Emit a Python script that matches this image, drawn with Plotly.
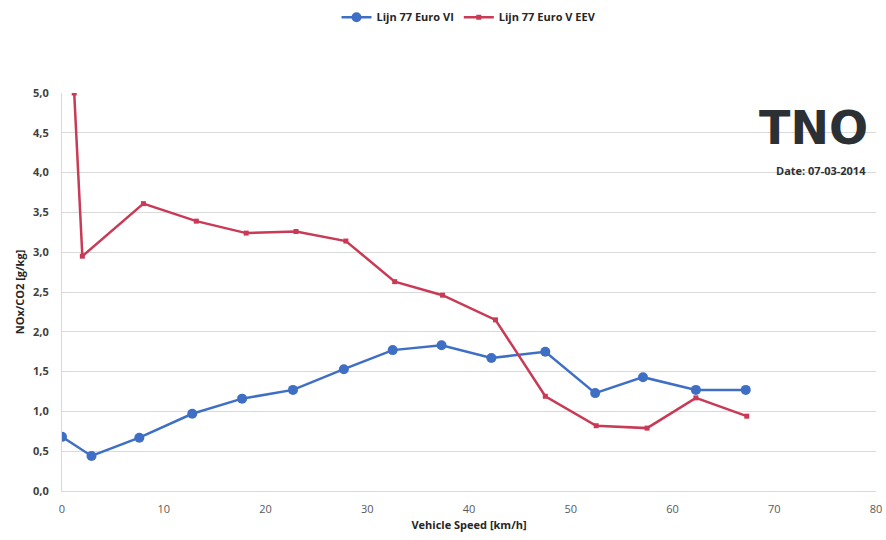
import plotly.graph_objects as go

# Data
euro6_speed = [0.0, 2.9, 7.6, 12.8, 17.7, 22.7, 27.7, 32.5, 37.3, 42.2, 47.5, 52.4, 57.1, 62.3, 67.2]
euro6_nox = [0.68, 0.44, 0.67, 0.97, 1.16, 1.27, 1.53, 1.77, 1.83, 1.67, 1.75, 1.23, 1.43, 1.27, 1.27]

eev_speed = [1.2, 2.0, 8.0, 13.2, 18.1, 23.0, 27.9, 32.7, 37.4, 42.6, 47.5, 52.5, 57.5, 62.3, 67.3]
eev_nox = [5.0, 2.95, 3.61, 3.39, 3.24, 3.26, 3.14, 2.63, 2.46, 2.15, 1.19, 0.82, 0.79, 1.17, 0.94]

series_names = ["Lijn 77 Euro VI", "Lijn 77 Euro V EEV"]
x_title = "Vehicle Speed [km/h]"
y_title = "NOx/CO2 [g/kg]"
logo_text = "TNO"
date_text = "Date: 07-03-2014"

BLUE = "#3F6FC4"
RED = "#C83A55"
FONT = "Open Sans"

fig = go.Figure()
fig.add_trace(go.Scatter(
    x=euro6_speed, y=euro6_nox, name=series_names[0], mode="lines+markers",
    line=dict(color=BLUE, width=2.5),
    marker=dict(symbol="circle", size=10, color=BLUE),
))
fig.add_trace(go.Scatter(
    x=eev_speed, y=eev_nox, name=series_names[1], mode="lines+markers",
    line=dict(color=RED, width=2.5),
    marker=dict(symbol="square", size=5, color=RED),
))

fig.update_layout(
    width=886, height=540,
    margin=dict(l=62, r=10, t=93, b=49, autoexpand=False),
    plot_bgcolor="white", paper_bgcolor="white",
    separators=",.",
    font=dict(family=FONT, size=11, color="#404040"),
    showlegend=True,
    legend=dict(orientation="h", x=0.5, xanchor="center", y=0.995, yanchor="top",
                yref="container", font=dict(size=11, color="#262626", weight="bold"),
                traceorder="normal"),
    xaxis=dict(range=[0, 80], dtick=10, showgrid=False, zeroline=False,
               showline=True, linecolor="#D9D9D9", linewidth=1, automargin=False,
               ticks="", ticklabelstandoff=8, tickfont=dict(size=11, color="#595959"),
               title=dict(text=x_title, font=dict(size=11, color="#262626", weight="bold"), standoff=6)),
    yaxis=dict(range=[0, 5], dtick=0.5, tickformat=".1f", showgrid=True,
               gridcolor="#D9D9D9", gridwidth=1, zeroline=False,
               showline=True, linecolor="#D9D9D9", linewidth=1,
               ticks="", ticklabelstandoff=10, tickfont=dict(size=11, color="#404040", weight="bold"),
               title=dict(text=y_title, font=dict(size=11, color="#262626", weight="bold"), standoff=6)),
)

fig.add_annotation(text="<b>" + logo_text + "</b>", xref="paper", yref="paper",
                   x=0.993, y=0.985, xanchor="right", yanchor="top", showarrow=False,
                   font=dict(family="DejaVu Sans", size=46, color="#2B3035"))
fig.add_annotation(text="<b>" + date_text + "</b>", xref="paper", yref="paper",
                   x=0.99, y=0.805, xanchor="right", yanchor="middle", showarrow=False,
                   font=dict(family=FONT, size=11, color="#2B3035"))

fig.write_html("out.html")
